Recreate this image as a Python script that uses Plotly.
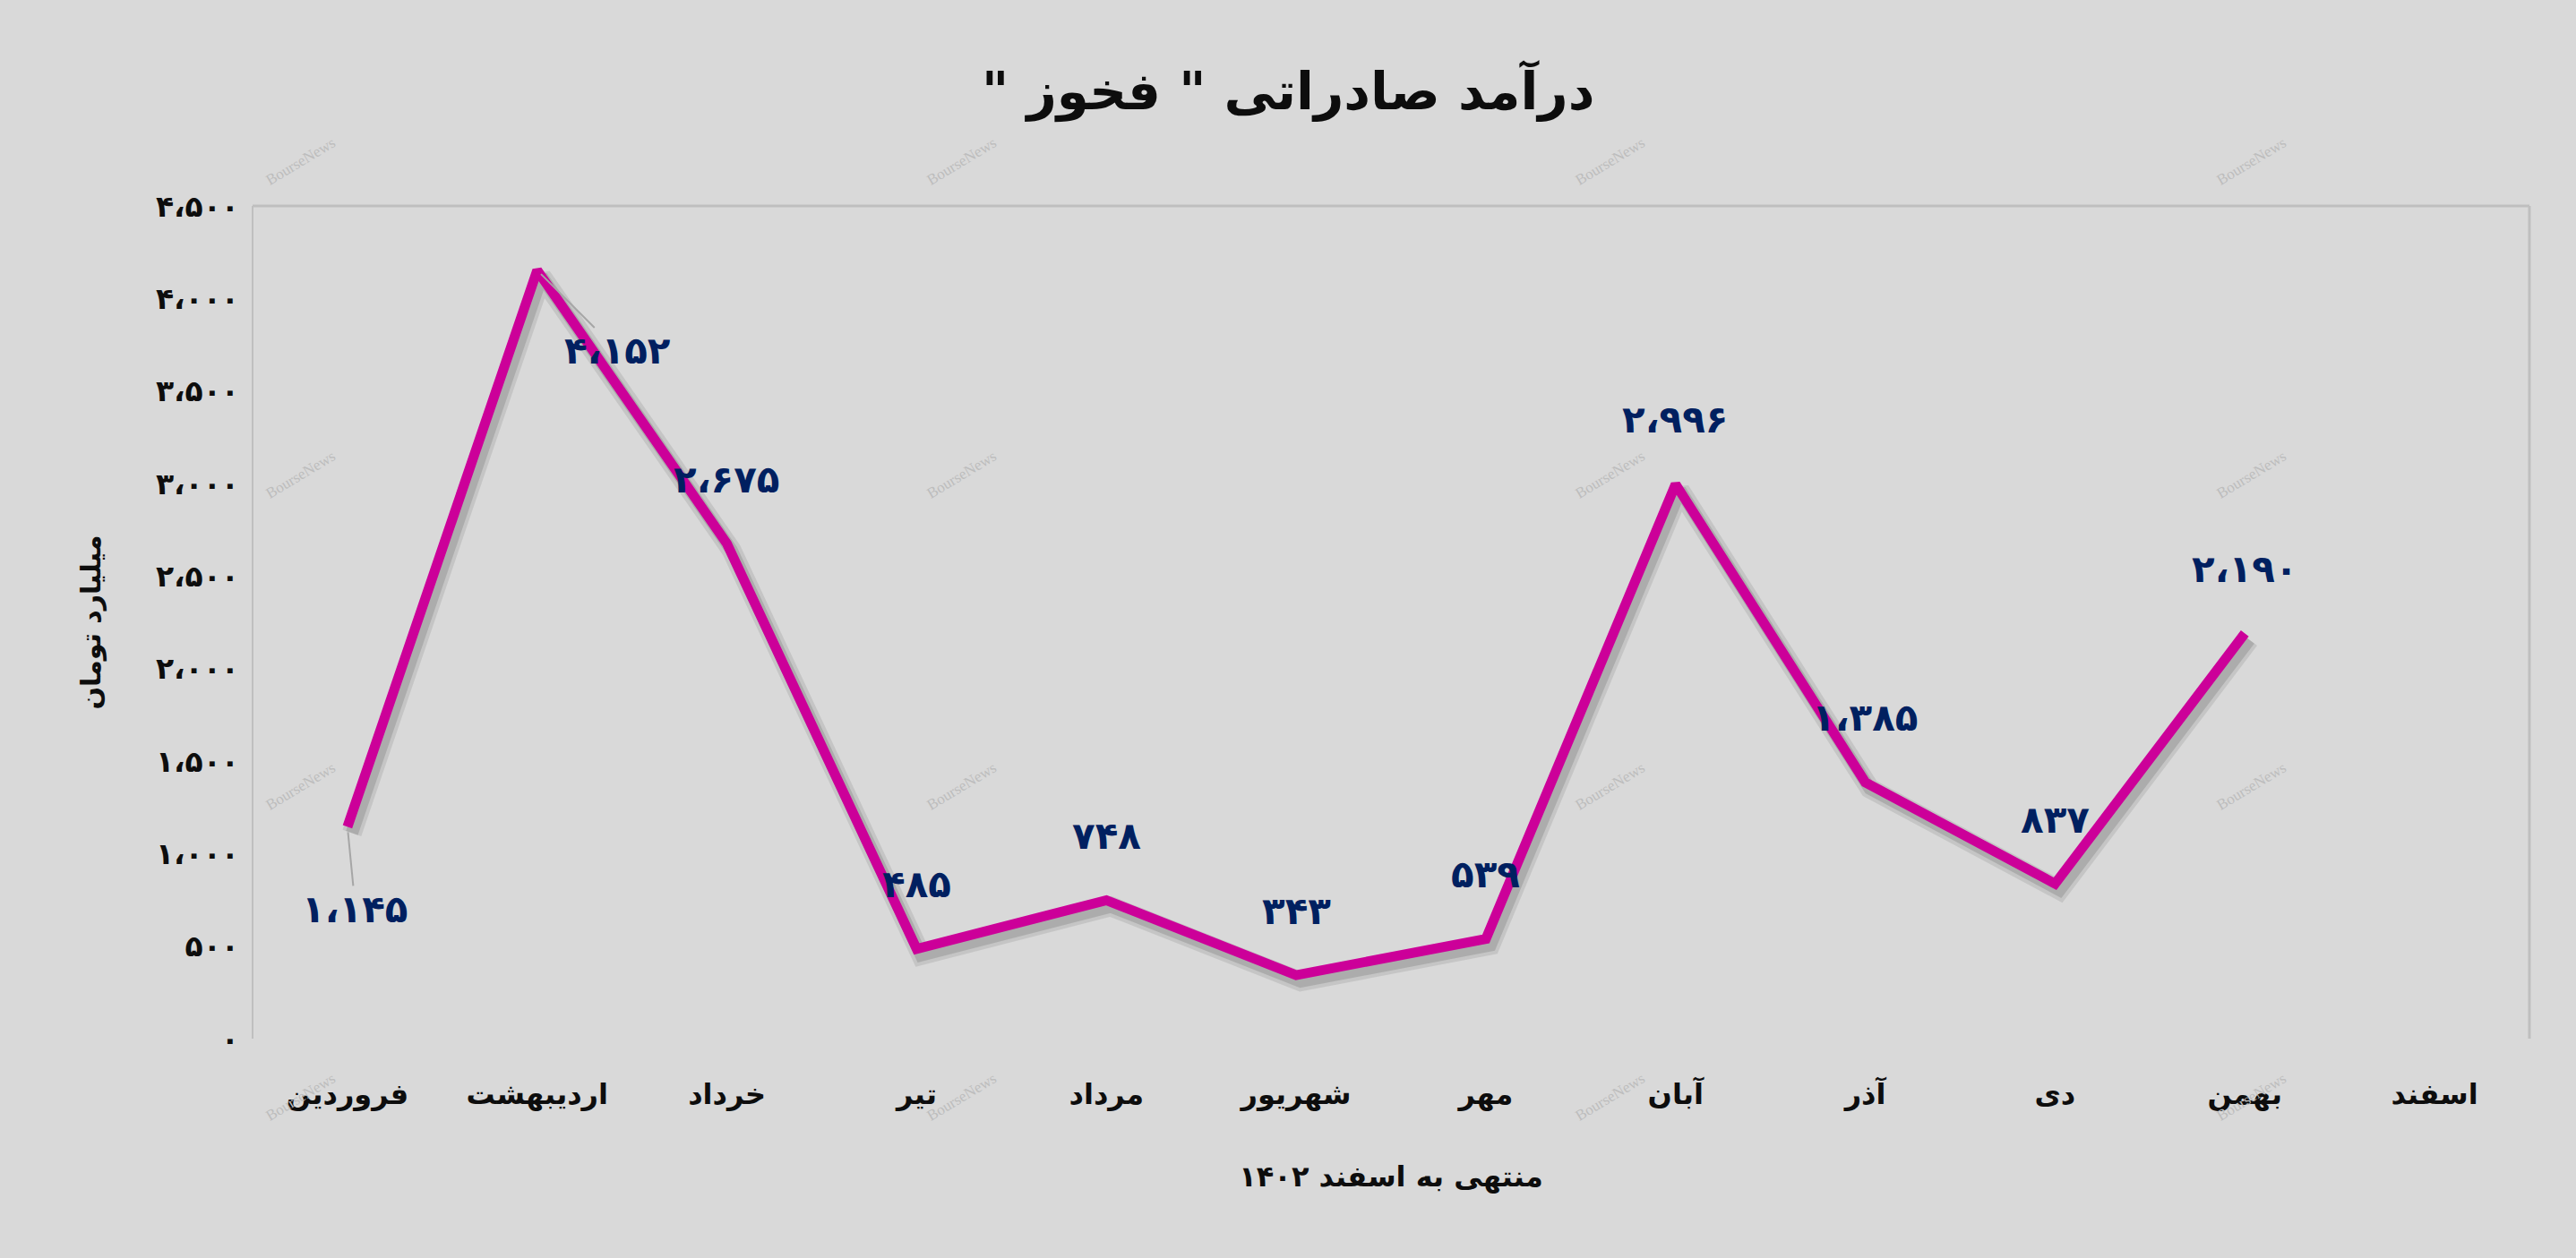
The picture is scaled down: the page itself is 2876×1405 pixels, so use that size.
import plotly.graph_objects as go

months = ["فروردین", "اردیبهشت", "خرداد", "تیر", "مرداد", "شهریور",
          "مهر", "آبان", "آذر", "دی", "بهمن", "اسفند"]
revenue = [1145, 4152, 2675, 485, 748, 343, 539, 2996, 1385, 837, 2190, None]
value_labels = ["۱،۱۴۵", "۴،۱۵۲", "۲،۶۷۵", "۴۸۵", "۷۴۸", "۳۴۳",
                "۵۳۹", "۲،۹۹۶", "۱،۳۸۵", "۸۳۷", "۲،۱۹۰", None]
y_tickvals = [0, 500, 1000, 1500, 2000, 2500, 3000, 3500, 4000, 4500]
y_ticktext = ["۰", "۵۰۰", "۱،۰۰۰", "۱،۵۰۰", "۲،۰۰۰", "۲،۵۰۰",
              "۳،۰۰۰", "۳،۵۰۰", "۴،۰۰۰", "۴،۵۰۰"]

title_text = 'درآمد صادراتی " فخوز "\u200f'
x_title = "منتهی به اسفند ۱۴۰۲"
y_title = "میلیارد تومان"

FONT = "DejaVu Sans"
BG = "#d9d9d9"
LINE = "#cc0099"
LABEL = "#002060"
BORDER = "#bfbfbf"

W, H = 2876, 1405
L, R, T, B = 282, 52, 230, 245
plot_w = W - L - R
plot_h = H - T - B
xs = list(range(len(months)))

# shadow offset (pixels) converted to axis units
dx = 5 * 12 / plot_w
dy = 7 * 4500 / plot_h

fig = go.Figure()
# shadow on base axes (shifted range)
fig.add_trace(go.Scatter(x=xs, y=revenue, mode="lines", xaxis="x", yaxis="y",
                         line=dict(color="rgba(60,60,60,0.12)", width=22),
                         hoverinfo="skip", showlegend=False, connectgaps=False))
fig.add_trace(go.Scatter(x=xs, y=revenue, mode="lines", xaxis="x", yaxis="y",
                         line=dict(color="rgba(60,60,60,0.18)", width=14),
                         hoverinfo="skip", showlegend=False, connectgaps=False))
# main line on overlay axes
fig.add_trace(go.Scatter(x=xs, y=revenue, mode="lines", xaxis="x2", yaxis="y2",
                         line=dict(color=LINE, width=11),
                         showlegend=False, connectgaps=False))

annotations = []
for i, (v, t) in enumerate(zip(revenue, value_labels)):
    if v is None:
        continue
    base = dict(x=i, y=v, xref="x2", yref="y2", text=t,
                font=dict(family=FONT, size=42, color=LABEL, weight="bold"))
    if i == 0:
        base.update(showarrow=True, ax=9, ay=92, arrowhead=0, arrowwidth=2,
                    arrowcolor="#a6a6a6", standoff=6)
    elif i == 1:
        base.update(showarrow=True, ax=90, ay=90, arrowhead=0, arrowwidth=2,
                    arrowcolor="#a6a6a6", standoff=6)
    else:
        base.update(showarrow=False, yshift=72)
    annotations.append(base)

# watermarks
wm_x = [335, 1073, 1797, 2513]
wm_y = [180, 530, 878, 1225]
for px in wm_x:
    for py in wm_y:
        annotations.append(dict(
            x=(px - L) / plot_w, y=(H - B - py) / plot_h, xref="paper", yref="paper",
            xanchor="center", yanchor="middle",
            text="BourseNews", showarrow=False, textangle=-31,
            font=dict(family="Liberation Serif", size=17, color="#bdbdbd")))

# title
annotations.append(dict(x=0.5 - (L - R) / 2 / plot_w, y=(H - B - 101) / plot_h,
                        xref="paper", yref="paper",
                        text=title_text, showarrow=False, xanchor="center", yanchor="middle",
                        font=dict(family=FONT, size=58, color="#0d0d0d", weight="bold")))

fig.update_layout(
    width=W, height=H,
    paper_bgcolor=BG, plot_bgcolor=BG,
    margin=dict(l=L, r=R, t=T, b=B),
    annotations=annotations,
    xaxis=dict(range=[-0.5 - dx, 11.5 - dx], visible=False),
    yaxis=dict(range=[0 + dy, 4500 + dy], visible=False),
    xaxis2=dict(overlaying="x", range=[-0.5, 11.5], tickmode="array",
                tickvals=xs, ticktext=months, showgrid=False, zeroline=False,
                showline=False, ticks="", ticklabelstandoff=40,
                tickfont=dict(family=FONT, size=32, color="#0d0d0d", weight="bold"),
                title=dict(text=x_title, standoff=62,
                           font=dict(family=FONT, size=32, color="#0d0d0d", weight="bold"))),
    yaxis2=dict(overlaying="y", range=[0, 4500], tickmode="array",
                tickvals=y_tickvals, ticktext=y_ticktext, showgrid=False,
                zeroline=False, showline=False, ticks="", ticklabelstandoff=14,
                tickfont=dict(family=FONT, size=33, color="#0d0d0d", weight="bold"),
                title=dict(text=y_title, standoff=52,
                           font=dict(family=FONT, size=30, color="#0d0d0d", weight="bold"))),
    shapes=[
        dict(type="line", xref="paper", yref="paper", x0=0, x1=1, y0=1, y1=1,
             line=dict(color=BORDER, width=3)),
        dict(type="line", xref="paper", yref="paper", x0=0, x1=0, y0=0, y1=1,
             line=dict(color=BORDER, width=2)),
        dict(type="line", xref="paper", yref="paper", x0=1, x1=1, y0=0, y1=1,
             line=dict(color=BORDER, width=3)),
    ],
)

fig.write_html("out.html", config={"displayModeBar": False},
               post_script="document.body.style.margin='0';document.body.style.background='#d9d9d9';")
